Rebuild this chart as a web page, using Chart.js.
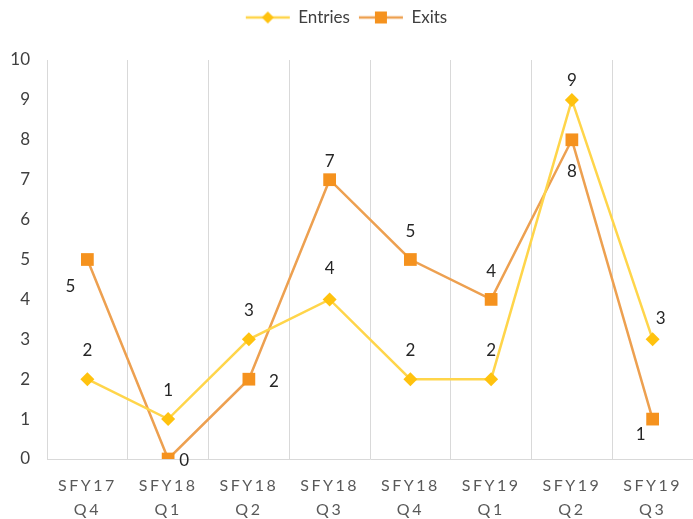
<!DOCTYPE html>
<html>
<head>
<meta charset="utf-8">
<script src="https://cdn.jsdelivr.net/npm/chart.js@4.4.1/dist/chart.umd.min.js"></script>
<style>
  html, body { margin: 0; padding: 0; background: #fff; }
  #wrap { width: 693px; height: 519px; }
</style>
</head>
<body>
<div id="wrap"><canvas id="lineChart"></canvas></div>
<script>
const quarters = [["SFY17", "Q4"], ["SFY18", "Q1"], ["SFY18", "Q2"], ["SFY18", "Q3"],
                  ["SFY18", "Q4"], ["SFY19", "Q1"], ["SFY19", "Q2"], ["SFY19", "Q3"]];
const entries = [2, 1, 3, 4, 2, 2, 9, 3];
const exits = [5, 0, 2, 7, 5, 4, 8, 1];
const yTicks = [0, 1, 2, 3, 4, 5, 6, 7, 8, 9, 10];

// where each value label sits relative to its point
const entryLabelOffsets = [[0, -29], [0, -29], [0, -29], [0, -31], [0, -29], [0, -29], [0, -19], [8, -21]];
const exitLabelOffsets = [[-17, 27], [16, 2], [25, 2], [0, -18], [0, -28], [0, -28], [0, 32], [-12, 15]];

const ENTRY_LINE = "#FFD54A";
const ENTRY_MARK = "#FFC20E";
const EXIT_LINE = "#EDA050";
const EXIT_MARK = "#F5921E";

function legendIcon(lineColor, markColor, shape) {
    const c = document.createElement("canvas");
    c.width = 48;
    c.height = 16;
    const g = c.getContext("2d");
    g.strokeStyle = lineColor;
    g.lineWidth = 2.5;
    g.beginPath();
    g.moveTo(2, 8);
    g.lineTo(46, 8);
    g.stroke();
    g.fillStyle = markColor;
    g.beginPath();
    if (shape === "diamond") {
        g.moveTo(24, 2); g.lineTo(30, 8); g.lineTo(24, 14); g.lineTo(18, 8);
    } else {
        g.rect(18, 2, 12, 12);
    }
    g.closePath();
    g.fill();
    return c;
}

const valueLabels = {
    id: "valueLabels",
    afterDatasetsDraw(chart) {
        const ctx = chart.ctx;
        ctx.save();
        ctx.font = "17px Lato";
        ctx.fillStyle = "#262626";
        ctx.textAlign = "center";
        ctx.textBaseline = "middle";
        const offsets = [entryLabelOffsets, exitLabelOffsets];
        chart.data.datasets.forEach((ds, i) => {
            chart.getDatasetMeta(i).data.forEach((pt, j) => {
                const off = offsets[i][j];
                ctx.fillText(String(ds.data[j]), pt.x + off[0], pt.y + off[1]);
            });
        });
        ctx.restore();
    }
};

// spaced-out letters on the category labels
const spacedTicks = {
    id: "spacedTicks",
    beforeDraw(chart) {
        const xs = chart.scales.x;
        if (xs._spaced) return;
        const orig = xs.drawLabels.bind(xs);
        xs.drawLabels = function (area) {
            chart.ctx.save();
            chart.ctx.letterSpacing = "2.5px";
            orig(area);
            chart.ctx.restore();
        };
        xs._spaced = true;
    }
};

// fixed room for the legend above the plot
const legendSpace = {
    id: "legendSpace",
    beforeInit(chart) {
        const fit = chart.legend.fit;
        chart.legend.fit = function () {
            fit.bind(chart.legend)();
            this.height = 60;
        };
    }
};

new Chart(document.getElementById("lineChart"), {
    type: "line",
    data: {
        labels: quarters,
        datasets: [{
            label: "Entries",
            data: entries,
            borderColor: ENTRY_LINE,
            backgroundColor: ENTRY_MARK,
            borderWidth: 2.5,
            pointStyle: "rectRot",
            pointRadius: 7,
            pointHoverRadius: 7,
            pointBackgroundColor: ENTRY_MARK,
            pointBorderColor: ENTRY_MARK,
            pointBorderWidth: 0,
            tension: 0
        }, {
            label: "Exits",
            data: exits,
            borderColor: EXIT_LINE,
            backgroundColor: EXIT_MARK,
            borderWidth: 2.5,
            pointStyle: "rect",
            pointRadius: 9,
            pointHoverRadius: 9,
            pointBackgroundColor: EXIT_MARK,
            pointBorderColor: EXIT_MARK,
            pointBorderWidth: 0,
            tension: 0
        }]
    },
    options: {
        responsive: true,
        maintainAspectRatio: false,
        animation: false,
        layout: { padding: 0, autoPadding: false },
        plugins: {
            tooltip: { enabled: false },
            legend: {
                position: "top",
                labels: {
                    font: { family: "Lato", size: 17 },
                    color: "#404040",
                    usePointStyle: true,
                    pointStyleWidth: 44,
                    boxHeight: 16,
                    padding: 9,
                    generateLabels(chart) {
                        const items = Chart.defaults.plugins.legend.labels.generateLabels(chart);
                        items[0].pointStyle = legendIcon(ENTRY_LINE, ENTRY_MARK, "diamond");
                        items[1].pointStyle = legendIcon(EXIT_LINE, EXIT_MARK, "square");
                        return items;
                    }
                }
            }
        },
        scales: {
            x: {
                offset: true,
                afterFit(scale) {
                    scale.height = 60;
                    scale.paddingLeft = 0;
                    scale.paddingRight = 0;
                },
                grid: {
                    offset: true,
                    drawTicks: false,
                    color: ctx => ctx.index >= quarters.length ? "rgba(0,0,0,0)" : "#D9D9D9"
                },
                border: { color: "#D9D9D9" },
                ticks: {
                    font: { family: "Lato", size: 16, lineHeight: 1.5 },
                    color: "#595959",
                    padding: 15,
                    maxRotation: 0
                }
            },
            y: {
                min: 0,
                max: 10,
                afterFit(scale) { scale.width = 47; },
                afterBuildTicks(scale) {
                    scale.ticks = yTicks.map(v => ({ value: v }));
                },
                grid: { display: false, drawTicks: false },
                border: { color: "#D9D9D9" },
                ticks: {
                    font: { family: "Lato", size: 17 },
                    color: "#404040",
                    padding: 17
                }
            }
        }
    },
    plugins: [valueLabels, spacedTicks, legendSpace]
});
</script>
</body>
</html>
